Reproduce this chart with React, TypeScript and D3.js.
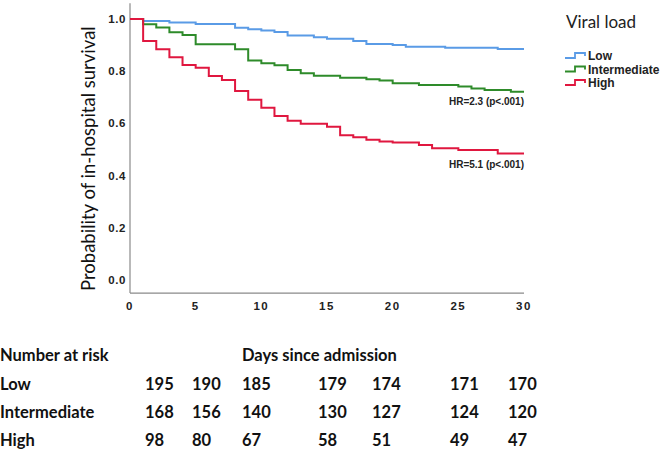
import React from "react";
import * as d3 from "d3";

// Kaplan–Meier change points (day, survival)
const lowDays = [0, 1, 3, 5, 8, 9, 10, 11, 12, 14, 15, 17, 18, 20, 21, 24, 28];
const lowSurv = [1.0, 0.992, 0.987, 0.981, 0.966, 0.961, 0.956, 0.950, 0.937, 0.930, 0.924, 0.916, 0.904, 0.900, 0.894, 0.890, 0.885];

const intDays = [0, 1, 2, 3, 4, 5, 8, 9, 10, 11, 12, 13, 14, 16, 18, 19, 20, 22, 25, 26, 27, 29];
const intSurv = [1.0, 0.980, 0.967, 0.949, 0.939, 0.903, 0.884, 0.841, 0.830, 0.823, 0.805, 0.792, 0.783, 0.775, 0.769, 0.764, 0.754, 0.747, 0.741, 0.734, 0.728, 0.721];

const highDays = [0, 1, 2, 3, 4, 5, 6, 7, 8, 9, 10, 11, 12, 13, 15, 16, 17, 18, 19, 20, 22, 23, 25, 28];
const highSurv = [1.0, 0.916, 0.884, 0.853, 0.824, 0.813, 0.782, 0.766, 0.724, 0.691, 0.660, 0.628, 0.610, 0.599, 0.587, 0.555, 0.547, 0.537, 0.531, 0.527, 0.517, 0.505, 0.498, 0.485];

const seriesNames = ["Low", "Intermediate", "High"];
const seriesColors = ["#5a9be6", "#2e8b2a", "#e0173f"];

const xTicks = [0, 5, 10, 15, 20, 25, 30];
const yTicks = [0.0, 0.2, 0.4, 0.6, 0.8, 1.0];

const riskRows = ["Low", "Intermediate", "High"];
const riskLow = [195, 190, 185, 179, 174, 171, 170];
const riskInt = [168, 156, 140, 130, 127, 124, 120];
const riskHigh = [98, 80, 67, 58, 51, 49, 47];
const riskColX = [145, 192, 242, 318, 372, 450, 508];

const hrLabels = ["HR=2.3 (p<.001)", "HR=5.1 (p<.001)"];

export default function App() {
  const W = 660, H = 450;
  const x = d3.scaleLinear().domain([0, 30]).range([130, 524]);
  const y = d3.scaleLinear().domain([0, 1]).range([280, 19]);

  const series = [
    { days: lowDays, surv: lowSurv },
    { days: intDays, surv: intSurv },
    { days: highDays, surv: highSurv },
  ];

  const line = d3
    .line<[number, number]>()
    .x((d) => x(d[0]))
    .y((d) => y(d[1]))
    .curve(d3.curveStepAfter);

  const paths = series.map((s) => {
    const pts: [number, number][] = s.days.map((d, i) => [d, s.surv[i]]);
    pts.push([30, s.surv[s.surv.length - 1]]);
    return line(pts) as string;
  });

  const riskData = [riskLow, riskInt, riskHigh];
  const tableFont = "Lato, 'Open Sans', sans-serif";
  const tickFont = "'Liberation Sans', Arial, sans-serif";
  const tableSize = 16.5;

  return (
    <svg
      width={W}
      height={H}
      style={{ position: "absolute", left: 0, top: 0, background: "#fff" }}
    >
      {/* axes */}
      <line x1={x(0)} x2={x(0)} y1={y(1.06)} y2={y(-0.05)} stroke="#8a8a8a" strokeWidth={1.2} />
      <line x1={x(0)} x2={x(30)} y1={y(-0.05)} y2={y(-0.05)} stroke="#8a8a8a" strokeWidth={1.2} />

      {yTicks.map((t) => (
        <text
          key={"y" + t}
          x={x(0) - 4}
          y={y(t)}
          textAnchor="end"
          dominantBaseline="central"
          fontFamily={tickFont}
          fontWeight="bold"
          fontSize={11.5}
          letterSpacing={0.6}
          fill="#222"
        >
          {t.toFixed(1)}
        </text>
      ))}
      {xTicks.map((t) => (
        <text
          key={"x" + t}
          x={x(t)}
          y={y(-0.05) + 13}
          textAnchor="middle"
          dominantBaseline="central"
          fontFamily={tickFont}
          fontWeight="bold"
          fontSize={11.5}
          letterSpacing={1.5}
          fill="#222"
        >
          {t}
        </text>
      ))}

      <text
        transform={`translate(95, ${y(0.465)}) rotate(-90)`}
        textAnchor="middle"
        fontFamily={tableFont}
        fontSize={18.5}
        fill="#111"
      >
        Probability of in-hospital survival
      </text>

      {/* curves */}
      {paths.map((p, i) => (
        <path key={i} d={p} fill="none" stroke={seriesColors[i]} strokeWidth={2} />
      ))}

      {/* HR labels */}
      <text x={x(30)} y={y(0.685)} textAnchor="end" dominantBaseline="central" fontFamily={tickFont} fontWeight="bold" fontSize={10} fill="#222">
        {hrLabels[0]}
      </text>
      <text x={x(30)} y={y(0.443)} textAnchor="end" dominantBaseline="central" fontFamily={tickFont} fontWeight="bold" fontSize={10} fill="#222">
        {hrLabels[1]}
      </text>

      {/* legend */}
      <text x={566} y={21} dominantBaseline="central" fontFamily={tableFont} fontSize={17} fill="#222">
        Viral load
      </text>
      {seriesNames.map((n, i) => {
        const cy = 56 + i * 13.5;
        return (
          <g key={n}>
            <path
              d={`M565,${cy + 2}H575V${cy - 3}H585V${cy}`}
              fill="none"
              stroke={seriesColors[i]}
              strokeWidth={1.8}
            />
            <text x={588} y={cy} dominantBaseline="central" fontFamily={tickFont} fontWeight="bold" fontSize={12} fill="#222">
              {n}
            </text>
          </g>
        );
      })}

      {/* number at risk table */}
      <text x={0} y={355} dominantBaseline="central" fontFamily={tableFont} fontWeight="bold" fontSize={tableSize} fill="#111">
        Number at risk
      </text>
      <text x={242} y={355} dominantBaseline="central" fontFamily={tableFont} fontWeight="bold" fontSize={tableSize} fill="#111">
        Days since admission
      </text>
      {riskRows.map((r, ri) => {
        const ry = 384 + ri * 28;
        return (
          <g key={r}>
            <text x={0} y={ry} dominantBaseline="central" fontFamily={tableFont} fontWeight="bold" fontSize={tableSize} fill="#111">
              {r}
            </text>
            {riskData[ri].map((v, ci) => (
              <text key={ci} x={riskColX[ci]} y={ry} dominantBaseline="central" fontFamily={tableFont} fontWeight="bold" fontSize={tableSize} fill="#111">
                {v}
              </text>
            ))}
          </g>
        );
      })}
    </svg>
  );
}
